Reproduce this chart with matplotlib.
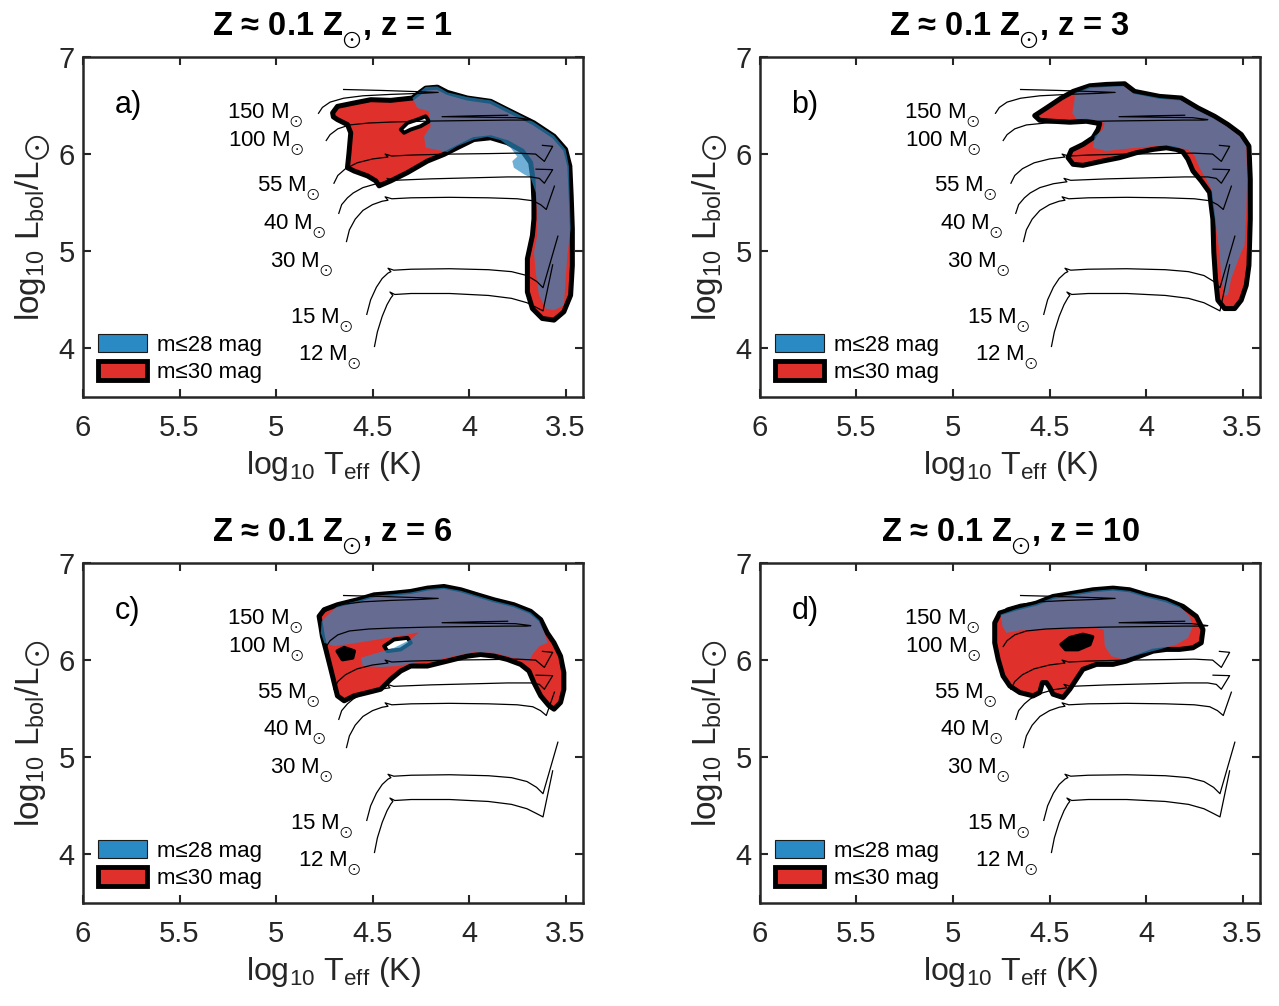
import matplotlib
matplotlib.use("Agg")
import matplotlib.pyplot as plt
from matplotlib.patches import Polygon, Patch

plt.rcParams['font.family'] = ['Liberation Sans', 'DejaVu Sans']
plt.rcParams['mathtext.fontset'] = 'custom'
plt.rcParams['mathtext.rm'] = 'Liberation Sans'
plt.rcParams['mathtext.it'] = 'Liberation Sans:italic'
plt.rcParams['mathtext.bf'] = 'Liberation Sans:bold'
plt.rcParams['mathtext.default'] = 'regular'
plt.rcParams['mathtext.fallback'] = 'stixsans'

SUN = r'$_{_{\bigodot}}$'

# evolutionary tracks, (log Teff, log L)
masses = [12, 15, 30, 40, 55, 100, 150]
track_T = {
    12: [4.49, 4.475, 4.45, 4.425, 4.405, 4.395, 4.41, 4.385, 4.30, 4.10, 3.90, 3.78, 3.70, 3.65, 3.617, 3.567],
    15: [4.53, 4.51, 4.48, 4.45, 4.42, 4.405, 4.42, 4.39, 4.30, 4.10, 3.90, 3.78, 3.70, 3.65, 3.617, 3.54],
    30: [4.635, 4.62, 4.59, 4.55, 4.50, 4.45, 4.42, 4.435, 4.40, 4.30, 4.10, 3.90, 3.75, 3.67, 3.63, 3.60, 3.558],
    40: [4.675, 4.66, 4.63, 4.60, 4.55, 4.48, 4.41, 4.425, 4.39, 4.20, 4.00, 3.80, 3.68, 3.636, 3.61, 3.567, 3.653],
    55: [4.70, 4.68, 4.64, 4.58, 4.50, 4.42, 4.435, 4.40, 4.30, 4.10, 3.90, 3.75, 3.655, 3.61, 3.567, 3.62],
    100: [4.74, 4.72, 4.68, 4.62, 4.52, 4.40, 4.20, 4.00, 3.80, 3.70, 3.68, 3.76, 3.95, 4.14, 3.95, 3.80],
    150: [4.78, 4.76, 4.72, 4.65, 4.55, 4.40, 4.25, 4.16, 4.30, 4.45, 4.65],
}
track_L = {
    12: [4.02, 4.17, 4.33, 4.45, 4.52, 4.545, 4.58, 4.555, 4.565, 4.565, 4.545, 4.515, 4.47, 4.42, 4.386, 4.86],
    15: [4.35, 4.50, 4.63, 4.72, 4.775, 4.79, 4.825, 4.805, 4.815, 4.82, 4.81, 4.79, 4.75, 4.69, 4.625, 5.155],
    30: [5.10, 5.22, 5.33, 5.42, 5.48, 5.515, 5.525, 5.56, 5.54, 5.55, 5.555, 5.55, 5.54, 5.52, 5.48, 5.43, 5.67],
    40: [5.39, 5.48, 5.55, 5.60, 5.655, 5.695, 5.715, 5.75, 5.73, 5.745, 5.755, 5.765, 5.765, 5.75, 5.70, 5.84, 5.845],
    55: [5.70, 5.78, 5.85, 5.91, 5.95, 5.97, 6.0, 5.98, 5.99, 6.0, 6.005, 6.01, 6.0, 5.925, 6.08, 6.09],
    100: [6.14, 6.20, 6.26, 6.30, 6.32, 6.33, 6.34, 6.345, 6.35, 6.35, 6.355, 6.375, 6.38, 6.385, 6.395, 6.40],
    150: [6.42, 6.48, 6.535, 6.575, 6.60, 6.615, 6.625, 6.635, 6.645, 6.655, 6.665],
}
label_T = [4.556, 4.597, 4.701, 4.737, 4.768, 4.856, 4.861]
label_L = [3.885, 4.264, 4.837, 5.226, 5.615, 6.086, 6.373]

redshifts = [1, 3, 6, 10]
panel_tags = ['a)', 'b)', 'c)', 'd)']

# m<=30 mag regions (outer outline)
red_a = [(4.707, 6.424), (4.682, 6.491), (4.596, 6.526), (4.509, 6.560), (4.406, 6.553), (4.294, 6.577),
         (4.225, 6.679), (4.164, 6.689), (4.112, 6.635), (4.009, 6.577), (3.888, 6.543), (3.785, 6.44),
         (3.664, 6.321), (3.560, 6.184), (3.50, 6.048), (3.478, 5.877), (3.471, 5.570), (3.465, 5.229),
         (3.465, 4.854), (3.474, 4.547), (3.509, 4.377), (3.56, 4.291), (3.621, 4.308), (3.672, 4.410),
         (3.698, 4.581), (3.698, 4.922), (3.672, 5.161), (3.664, 5.332), (3.664, 5.503), (3.669, 5.741),
         (3.681, 5.912), (3.724, 6.031), (3.802, 6.117), (3.888, 6.168), (3.975, 6.150), (4.061, 6.066),
         (4.130, 5.997), (4.216, 5.928), (4.319, 5.810), (4.406, 5.724), (4.466, 5.673), (4.483, 5.724),
         (4.526, 5.775), (4.596, 5.826), (4.630, 5.860), (4.622, 6.014), (4.613, 6.219), (4.630, 6.304),
         (4.682, 6.355), (4.703, 6.383)]
red_b = [(4.577, 6.396), (4.516, 6.475), (4.439, 6.577), (4.378, 6.645), (4.292, 6.703), (4.206, 6.717),
         (4.111, 6.724), (4.059, 6.645), (3.930, 6.594), (3.817, 6.577), (3.731, 6.475), (3.645, 6.389),
         (3.576, 6.304), (3.507, 6.202), (3.467, 6.082), (3.460, 5.741), (3.460, 5.332), (3.467, 4.854),
         (3.481, 4.649), (3.507, 4.496), (3.541, 4.410), (3.593, 4.410), (3.628, 4.496), (3.640, 4.717),
         (3.649, 4.991), (3.654, 5.332), (3.671, 5.605), (3.714, 5.724), (3.757, 5.826), (3.783, 5.946),
         (3.809, 6.021), (3.843, 6.048), (3.895, 6.065), (3.964, 6.048), (4.050, 6.014), (4.137, 5.963),
         (4.223, 5.929), (4.327, 5.884), (4.378, 5.895), (4.404, 5.963), (4.387, 6.041), (4.327, 6.099),
         (4.275, 6.168), (4.249, 6.253), (4.240, 6.314), (4.309, 6.338), (4.395, 6.328), (4.482, 6.338),
         (4.551, 6.348)]
red_c = [(4.777, 6.451), (4.751, 6.519), (4.682, 6.570), (4.578, 6.621), (4.492, 6.672), (4.389, 6.689),
         (4.302, 6.707), (4.216, 6.741), (4.130, 6.758), (4.043, 6.724), (3.957, 6.672), (3.871, 6.621),
         (3.768, 6.570), (3.681, 6.502), (3.629, 6.417), (3.595, 6.280), (3.560, 6.178), (3.526, 6.041),
         (3.509, 5.871), (3.509, 5.700), (3.526, 5.564), (3.560, 5.495), (3.586, 5.530), (3.629, 5.632),
         (3.664, 5.768), (3.690, 5.888), (3.733, 5.956), (3.802, 6.007), (3.871, 6.041), (3.940, 6.058),
         (4.009, 6.041), (4.078, 6.007), (4.147, 5.973), (4.216, 5.939), (4.302, 5.939), (4.354, 5.888),
         (4.406, 5.803), (4.458, 5.700), (4.526, 5.666), (4.596, 5.632), (4.647, 5.581), (4.682, 5.632),
         (4.699, 5.768), (4.716, 5.905), (4.742, 6.110), (4.760, 6.246), (4.768, 6.348)]
red_d = [(4.784, 6.383), (4.758, 6.485), (4.672, 6.536), (4.568, 6.587), (4.482, 6.655), (4.378, 6.689),
         (4.275, 6.724), (4.171, 6.741), (4.085, 6.724), (3.999, 6.672), (3.895, 6.621), (3.809, 6.553),
         (3.740, 6.451), (3.705, 6.314), (3.714, 6.178), (3.757, 6.127), (3.826, 6.110), (3.895, 6.110),
         (3.964, 6.092), (4.033, 6.041), (4.102, 5.990), (4.171, 5.956), (4.257, 5.956), (4.327, 5.905),
         (4.361, 5.803), (4.395, 5.700), (4.430, 5.615), (4.482, 5.649), (4.499, 5.717), (4.516, 5.768),
         (4.537, 5.768), (4.551, 5.666), (4.585, 5.632), (4.654, 5.666), (4.706, 5.734), (4.741, 5.837),
         (4.766, 6.007), (4.784, 6.178)]

# m<=28 mag regions
blue_a = [(4.294, 6.577), (4.225, 6.690), (4.164, 6.696), (4.112, 6.635), (4.009, 6.587), (3.888, 6.553),
          (3.785, 6.450), (3.664, 6.328), (3.560, 6.191), (3.500, 6.048), (3.483, 5.877), (3.474, 5.229),
          (3.491, 4.956), (3.500, 4.717), (3.509, 4.444), (3.560, 4.393), (3.604, 4.410), (3.638, 4.547),
          (3.655, 4.786), (3.664, 4.991), (3.647, 5.161), (3.647, 5.400), (3.655, 5.605), (3.681, 5.758),
          (3.716, 5.792), (3.768, 5.860), (3.776, 5.928), (3.750, 5.973), (3.785, 6.066), (3.836, 6.143),
          (3.905, 6.178), (3.975, 6.150), (4.061, 6.082), (4.112, 6.021), (4.225, 6.066), (4.233, 6.184),
          (4.199, 6.287), (4.208, 6.440), (4.268, 6.475)]
blue_b = [(4.370, 6.628), (4.292, 6.690), (4.206, 6.696), (4.119, 6.703), (4.068, 6.628), (3.930, 6.577),
          (3.826, 6.560), (3.740, 6.458), (3.654, 6.372), (3.585, 6.287), (3.516, 6.185), (3.481, 6.082),
          (3.476, 5.741), (3.481, 5.400), (3.490, 5.059), (3.507, 4.991), (3.533, 4.854), (3.559, 4.717),
          (3.576, 4.547), (3.593, 4.547), (3.610, 4.717), (3.619, 4.991), (3.636, 5.229), (3.654, 5.468),
          (3.662, 5.639), (3.688, 5.741), (3.723, 5.860), (3.748, 5.980), (3.783, 6.048), (3.843, 6.065),
          (3.895, 6.089), (3.964, 6.082), (4.050, 6.065), (4.137, 6.048), (4.206, 6.031), (4.275, 6.065),
          (4.266, 6.185), (4.223, 6.253), (4.214, 6.321), (4.275, 6.355), (4.361, 6.362), (4.382, 6.423),
          (4.370, 6.560)]
blue_c = [(4.764, 6.40), (4.682, 6.560), (4.578, 6.611), (4.492, 6.662), (4.389, 6.680), (4.302, 6.697),
          (4.216, 6.731), (4.130, 6.745), (4.043, 6.714), (3.957, 6.662), (3.871, 6.611), (3.768, 6.560),
          (3.681, 6.490), (3.636, 6.410), (3.610, 6.280), (3.593, 6.178), (3.636, 6.144), (3.671, 6.060),
          (3.688, 5.990), (3.768, 6.024), (3.871, 6.075), (3.974, 6.082), (4.078, 6.041), (4.181, 5.997),
          (4.285, 5.973), (4.371, 5.939), (4.457, 5.929), (4.551, 5.939), (4.560, 6.024), (4.474, 6.075),
          (4.388, 6.127), (4.302, 6.212), (4.259, 6.287), (4.319, 6.263), (4.423, 6.229), (4.526, 6.195),
          (4.612, 6.168), (4.699, 6.144), (4.750, 6.178), (4.768, 6.280)]
blue_d = [(4.754, 6.468), (4.672, 6.526), (4.568, 6.577), (4.482, 6.645), (4.378, 6.679), (4.275, 6.713),
          (4.171, 6.730), (4.085, 6.713), (3.999, 6.662), (3.895, 6.614), (3.826, 6.553), (3.774, 6.451),
          (3.757, 6.348), (3.783, 6.229), (3.843, 6.161), (3.930, 6.110), (4.033, 6.058), (4.119, 6.007),
          (4.180, 6.041), (4.214, 6.144), (4.219, 6.314), (4.292, 6.342), (4.413, 6.321), (4.534, 6.314),
          (4.654, 6.307), (4.723, 6.280), (4.744, 6.348)]

# small islands inside the regions: (outline, face colour)
holes_a = [([(4.354, 6.253), (4.319, 6.321), (4.268, 6.355), (4.225, 6.389), (4.207, 6.338),
             (4.251, 6.287), (4.302, 6.253), (4.337, 6.219)], 'white')]
holes_b = []
holes_c = [([(4.682, 6.092), (4.647, 6.127), (4.596, 6.092), (4.604, 6.024), (4.656, 6.007)], 'black'),
           ([(4.440, 6.144), (4.389, 6.212), (4.319, 6.229), (4.302, 6.178), (4.354, 6.110),
             (4.423, 6.092)], 'white')]
holes_d = [([(4.439, 6.161), (4.395, 6.229), (4.327, 6.263), (4.278, 6.239), (4.292, 6.161),
             (4.352, 6.110), (4.416, 6.110)], 'black')]

RED = '#e0302b'
BLUE = '#2a8ac4'

red_all = [red_a, red_b, red_c, red_d]
blue_all = [blue_a, blue_b, blue_c, blue_d]
holes_all = [holes_a, holes_b, holes_c, holes_d]

fig = plt.figure(figsize=(12.79, 10.06), dpi=100)
positions = [[0.0649, 0.6054, 0.3909, 0.3380], [0.5942, 0.6054, 0.3909, 0.3380],
             [0.0649, 0.1024, 0.3909, 0.3380], [0.5942, 0.1024, 0.3909, 0.3380]]

for i in range(4):
    ax = fig.add_axes(positions[i])
    ax.add_patch(Polygon(red_all[i], closed=True, fc=RED, ec='k', lw=3.6, joinstyle='round', zorder=1))
    for h, c in holes_all[i]:
        ax.add_patch(Polygon(h, closed=True, fc=c, ec='k', lw=2.8, joinstyle='round', zorder=1.5))
    ax.add_patch(Polygon(blue_all[i], closed=True, fc=BLUE, ec='none', alpha=0.67, zorder=2))
    for m in masses:
        ax.plot(track_T[m], track_L[m], color='k', lw=0.9, zorder=3)
    for j, m in enumerate(masses):
        ax.text(label_T[j], label_L[j], f'{m} M' + SUN, fontsize=16, ha='right', va='baseline')
    ax.text(5.767, 6.509, panel_tags[i], fontsize=22, ha='center', va='center')

    ax.set_xlim(6, 3.41)
    ax.set_ylim(3.5, 7)
    ax.set_xticks([6, 5.5, 5, 4.5, 4, 3.5])
    ax.set_xticklabels(['6', '5.5', '5', '4.5', '4', '3.5'])
    ax.set_yticks([4, 5, 6, 7])
    ax.tick_params(direction='in', top=True, right=True, length=6, width=1.5,
                   labelsize=21, colors='#262626')
    ax.tick_params(axis='x', pad=12)
    ax.tick_params(axis='y', pad=6)
    for s in ax.spines.values():
        s.set_linewidth(1.8)
        s.set_color('#262626')
    ax.set_xlabel('log$_{10}$ T$_{eff}$ (K)', fontsize=23, labelpad=5, color='#262626')
    ax.set_ylabel(r'log$_{10}$ L$_{bol}$/L$_{\bigodot}$', fontsize=24, labelpad=4, color='#262626')
    ax.set_title(f'Z ≈ 0.1 Z{SUN}, z = {redshifts[i]}', fontsize=23.5, fontweight='bold', pad=16)

    handles = [Patch(fc=BLUE, ec='#1a1a1a', lw=0.8), Patch(fc=RED, ec='k', lw=3.5)]
    ax.legend(handles, ['m≤28 mag', 'm≤30 mag'], loc='lower left', bbox_to_anchor=(0.03, 0.04),
              frameon=False, fontsize=16, borderpad=0, borderaxespad=0, handlelength=2.2,
              handleheight=0.9, labelspacing=0.25, handletextpad=0.45)

fig.savefig('out.png', dpi=100)
